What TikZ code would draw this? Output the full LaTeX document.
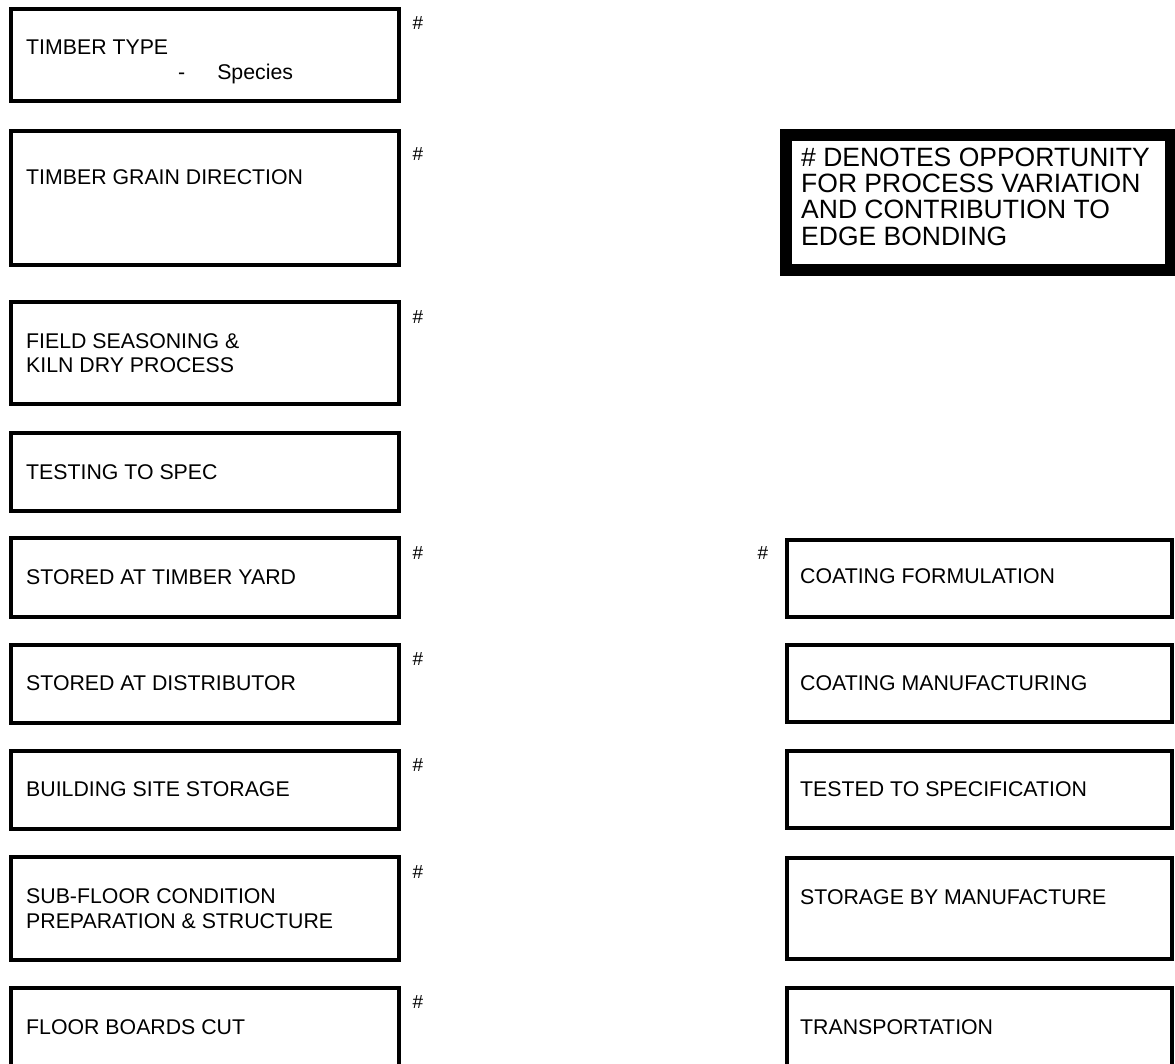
\documentclass[tikz,border=0pt]{standalone}
\usepackage{fontspec}
\setmainfont{Liberation Sans}

\tikzset{
  stage/.style={draw, line width=3.5pt, rectangle, anchor=north west, inner sep=0pt, outer sep=0pt},
  stagetext/.style={anchor=west, align=left, inner sep=0pt, font=\fontsize{21.3}{24.5}\selectfont},
  hashmark/.style={inner sep=0pt, font=\fontsize{19}{19}\selectfont},
  keybox/.style={draw, line width=12pt, rectangle, anchor=north west, inner sep=0pt, outer sep=0pt},
  keytext/.style={anchor=west, align=left, inner sep=0pt, font=\fontsize{26.5}{26.4}\selectfont}
}

\begin{document}
\begin{tikzpicture}[x=1pt, y=-1pt]
    \useasboundingbox (0,0) rectangle (1175,1063);

    % Timber column
    \node[stage, minimum width=388pt, minimum height=92pt] (timbertype) at (11,9) {};
    \node[stagetext] (timbertypetxt) at (26,62) {TIMBER TYPE\\\hspace*{152pt}-\hspace*{32pt}Species};

    \node[stage, minimum width=388pt, minimum height=134pt] (grain) at (11,131) {};
    \node[stagetext] (graintxt) at (26,177) {TIMBER GRAIN DIRECTION};

    \node[stage, minimum width=388pt, minimum height=102pt] (seasoning) at (11,302) {};
    \node[stagetext] (seasoningtxt) at (26,353) {FIELD SEASONING \&\\KILN DRY PROCESS};

    \node[stage, minimum width=388pt, minimum height=78pt] (testing) at (11,433) {};
    \node[stagetext] (testingtxt) at (26,472) {TESTING TO SPEC};

    \node[stage, minimum width=388pt, minimum height=79pt] (yard) at (11,538) {};
    \node[stagetext] (yardtxt) at (26,577) {STORED AT TIMBER YARD};

    \node[stage, minimum width=388pt, minimum height=78pt] (distributor) at (11,645) {};
    \node[stagetext] (distributortxt) at (26,683) {STORED AT DISTRIBUTOR};

    \node[stage, minimum width=388pt, minimum height=78pt] (site) at (11,751) {};
    \node[stagetext] (sitetxt) at (26,789) {BUILDING SITE STORAGE};

    \node[stage, minimum width=388pt, minimum height=103pt] (subfloor) at (11,857) {};
    \node[stagetext] (subfloortxt) at (26,908.5) {SUB-FLOOR CONDITION\\PREPARATION \& STRUCTURE};

    \node[stage, minimum width=388pt, minimum height=90pt] (boards) at (11,988) {};
    \node[stagetext] (boardstxt) at (26,1027) {FLOOR BOARDS CUT};

    % Coating column
    \node[stage, minimum width=385pt, minimum height=77pt] (formulation) at (787,540) {};
    \node[stagetext] (formulationtxt) at (800,576) {COATING FORMULATION};

    \node[stage, minimum width=385pt, minimum height=77pt] (manufacturing) at (787,645) {};
    \node[stagetext] (manufacturingtxt) at (800,683) {COATING MANUFACTURING};

    \node[stage, minimum width=385pt, minimum height=77pt] (tested) at (787,751) {};
    \node[stagetext] (testedtxt) at (800,789) {TESTED TO SPECIFICATION};

    \node[stage, minimum width=385pt, minimum height=101pt] (storage) at (787,858) {};
    \node[stagetext] (storagetxt) at (800,897) {STORAGE BY MANUFACTURE};

    \node[stage, minimum width=385pt, minimum height=90pt] (transport) at (787,988) {};
    \node[stagetext] (transporttxt) at (800,1027) {TRANSPORTATION};

    % Variation marks
    \node[hashmark] (hashtype) at (418,23) {\#};
    \node[hashmark] (hashgrain) at (418,154) {\#};
    \node[hashmark] (hashseason) at (418,317) {\#};
    \node[hashmark] (hashyard) at (418,553) {\#};
    \node[hashmark] (hashdist) at (418,659) {\#};
    \node[hashmark] (hashsite) at (418,765) {\#};
    \node[hashmark] (hashsub) at (418,872) {\#};
    \node[hashmark] (hashboards) at (418,1002) {\#};
    \node[hashmark] (hashformula) at (763,553) {\#};

    % Key
    \node[keybox, minimum width=385pt, minimum height=135pt] (key) at (786,135) {};
    \node[keytext] (keytxt) at (801,196.5) {\# DENOTES OPPORTUNITY\\FOR PROCESS VARIATION\\AND CONTRIBUTION TO\\EDGE BONDING};

\end{tikzpicture}
\end{document}
